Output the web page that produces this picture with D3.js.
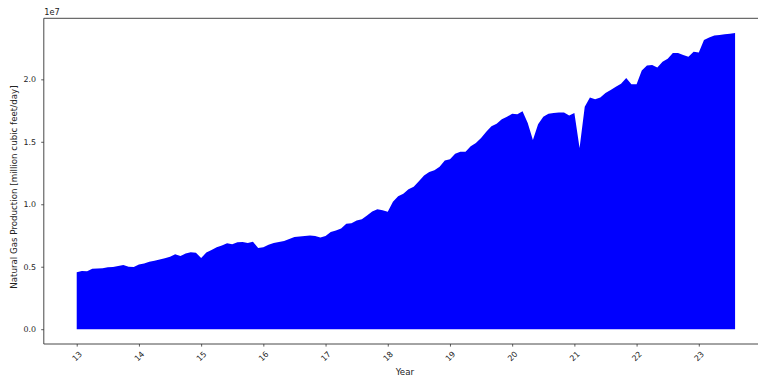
<!DOCTYPE html>
<html>
<head>
<meta charset="utf-8">
<script src="https://cdn.jsdelivr.net/npm/d3@7"></script>
<style>
  html, body { margin: 0; padding: 0; background: #fff; }
  svg { display: block; }
  text { font-family: "DejaVu Sans", sans-serif; fill: #222; }
</style>
</head>
<body>
<svg id="chart" width="758" height="376"></svg>
<script>
// Monthly natural gas production (units of 1e7 million cubic feet/day), Jan 2013 .. Aug 2023
const startYear = 13;            // first year (two-digit), first month = January
const production = [
  0.455, 0.466, 0.464, 0.484, 0.486, 0.488, 0.495, 0.497, 0.505, 0.513, 0.500, 0.497,
  0.518, 0.525, 0.540, 0.548, 0.558, 0.568, 0.580, 0.600, 0.585, 0.605, 0.615, 0.612,
  0.570, 0.613, 0.633, 0.655, 0.670, 0.688, 0.680, 0.695, 0.698, 0.690, 0.700, 0.650,
  0.655, 0.675, 0.690, 0.697, 0.705, 0.722, 0.737, 0.742, 0.745, 0.750, 0.745, 0.733,
  0.745, 0.777, 0.790, 0.805, 0.845, 0.848, 0.870, 0.880, 0.910, 0.942, 0.960, 0.952,
  0.940, 1.020, 1.065, 1.085, 1.120, 1.140, 1.185, 1.230, 1.258, 1.273, 1.300, 1.350,
  1.360, 1.405, 1.420, 1.420, 1.465, 1.490, 1.530, 1.580, 1.625, 1.645, 1.680, 1.700,
  1.725, 1.720, 1.745, 1.650, 1.515, 1.640, 1.700, 1.725, 1.730, 1.735, 1.735, 1.710,
  1.730, 1.450, 1.780, 1.855, 1.840, 1.855, 1.890, 1.915, 1.940, 1.965, 2.010, 1.960,
  1.960, 2.070, 2.110, 2.115, 2.095, 2.140, 2.165, 2.210, 2.210, 2.195, 2.180, 2.220,
  2.215, 2.315, 2.335, 2.350, 2.355, 2.360, 2.365, 2.370
].map(v => v * 1e7);
const xTicks = [13, 14, 15, 16, 17, 18, 19, 20, 21, 22, 23];
const yTicks = [0, 0.5e7, 1.0e7, 1.5e7, 2.0e7];
const yTickLabels = ["0.0", "0.5", "1.0", "1.5", "2.0"];
const xLabel = "Year";
const yLabel = "Natural Gas Production [million cubic feet/day]";
const offsetLabel = "1e7";

const data = production.map((v, i) => ({ t: startYear + i / 12, v }));

const mLeft = 43.8, mRight = 768, mTop = 18.3, mBottom = 344;
const tMin = d3.min(data, d => d.t), tMax = d3.max(data, d => d.t);
const xPad = (tMax - tMin) * 0.05;
const vMax = d3.max(data, d => d.v);
const yPad = vMax * 0.05;

const x = d3.scaleLinear().domain([tMin - xPad, tMax + xPad]).range([mLeft, mRight]);
const y = d3.scaleLinear().domain([-yPad, vMax + yPad]).range([mBottom, mTop]);

const svg = d3.select("#chart");
const fsTick = 7.9, fsLabel = 8.7, fsOffset = 8.2;

// Area
const area = d3.area().x(d => x(d.t)).y0(y(0)).y1(d => y(d.v)).curve(d3.curveLinear);
svg.append("path").datum(data).attr("d", area).attr("fill", "#0000ff").attr("stroke", "none");

// Spines
const spine = svg.append("g").attr("stroke", "#333").attr("stroke-width", 0.9).attr("fill", "none");
spine.append("line").attr("x1", mLeft).attr("x2", mLeft).attr("y1", mTop).attr("y2", mBottom);
spine.append("line").attr("x1", mLeft).attr("x2", mRight).attr("y1", mBottom).attr("y2", mBottom);
spine.append("line").attr("x1", mLeft).attr("x2", mRight).attr("y1", mTop).attr("y2", mTop);
spine.append("line").attr("x1", mRight).attr("x2", mRight).attr("y1", mTop).attr("y2", mBottom);

// X axis
const xAxis = d3.axisBottom(x).tickValues(xTicks).tickSize(2.6).tickFormat(d3.format("d"));
const gx = svg.append("g").attr("transform", `translate(0,${mBottom})`).call(xAxis);
gx.select(".domain").remove();
gx.selectAll(".tick line").attr("stroke", "#333").attr("stroke-width", 0.8);
gx.selectAll(".tick text")
  .attr("font-size", fsTick).attr("font-family", "DejaVu Sans").attr("fill", "#222")
  .attr("y", 0).attr("dy", null)
  .attr("text-anchor", "middle").attr("dominant-baseline", "central")
  .attr("transform", "translate(0,12.5) rotate(-45)");

// Y axis
const yAxis = d3.axisLeft(y).tickValues(yTicks).tickSize(2.6).tickFormat((d, i) => yTickLabels[i]);
const gy = svg.append("g").attr("transform", `translate(${mLeft},0)`).call(yAxis);
gy.select(".domain").remove();
gy.selectAll(".tick line").attr("stroke", "#333").attr("stroke-width", 0.8);
gy.selectAll(".tick text").attr("font-size", fsTick).attr("font-family", "DejaVu Sans").attr("fill", "#222")
  .attr("x", -7.8);

// Labels
svg.append("text").attr("x", (mLeft + mRight) / 2 - 1).attr("y", 375).attr("text-anchor", "middle")
  .attr("font-size", fsLabel).text(xLabel);
svg.append("text").attr("transform", `translate(17,${(mTop + mBottom) / 2 + 6}) rotate(-90)`)
  .attr("text-anchor", "middle").attr("font-size", fsLabel).text(yLabel);
svg.append("text").attr("x", mLeft + 0.5).attr("y", 15).attr("font-size", fsOffset).text(offsetLabel);
</script>
</body>
</html>
